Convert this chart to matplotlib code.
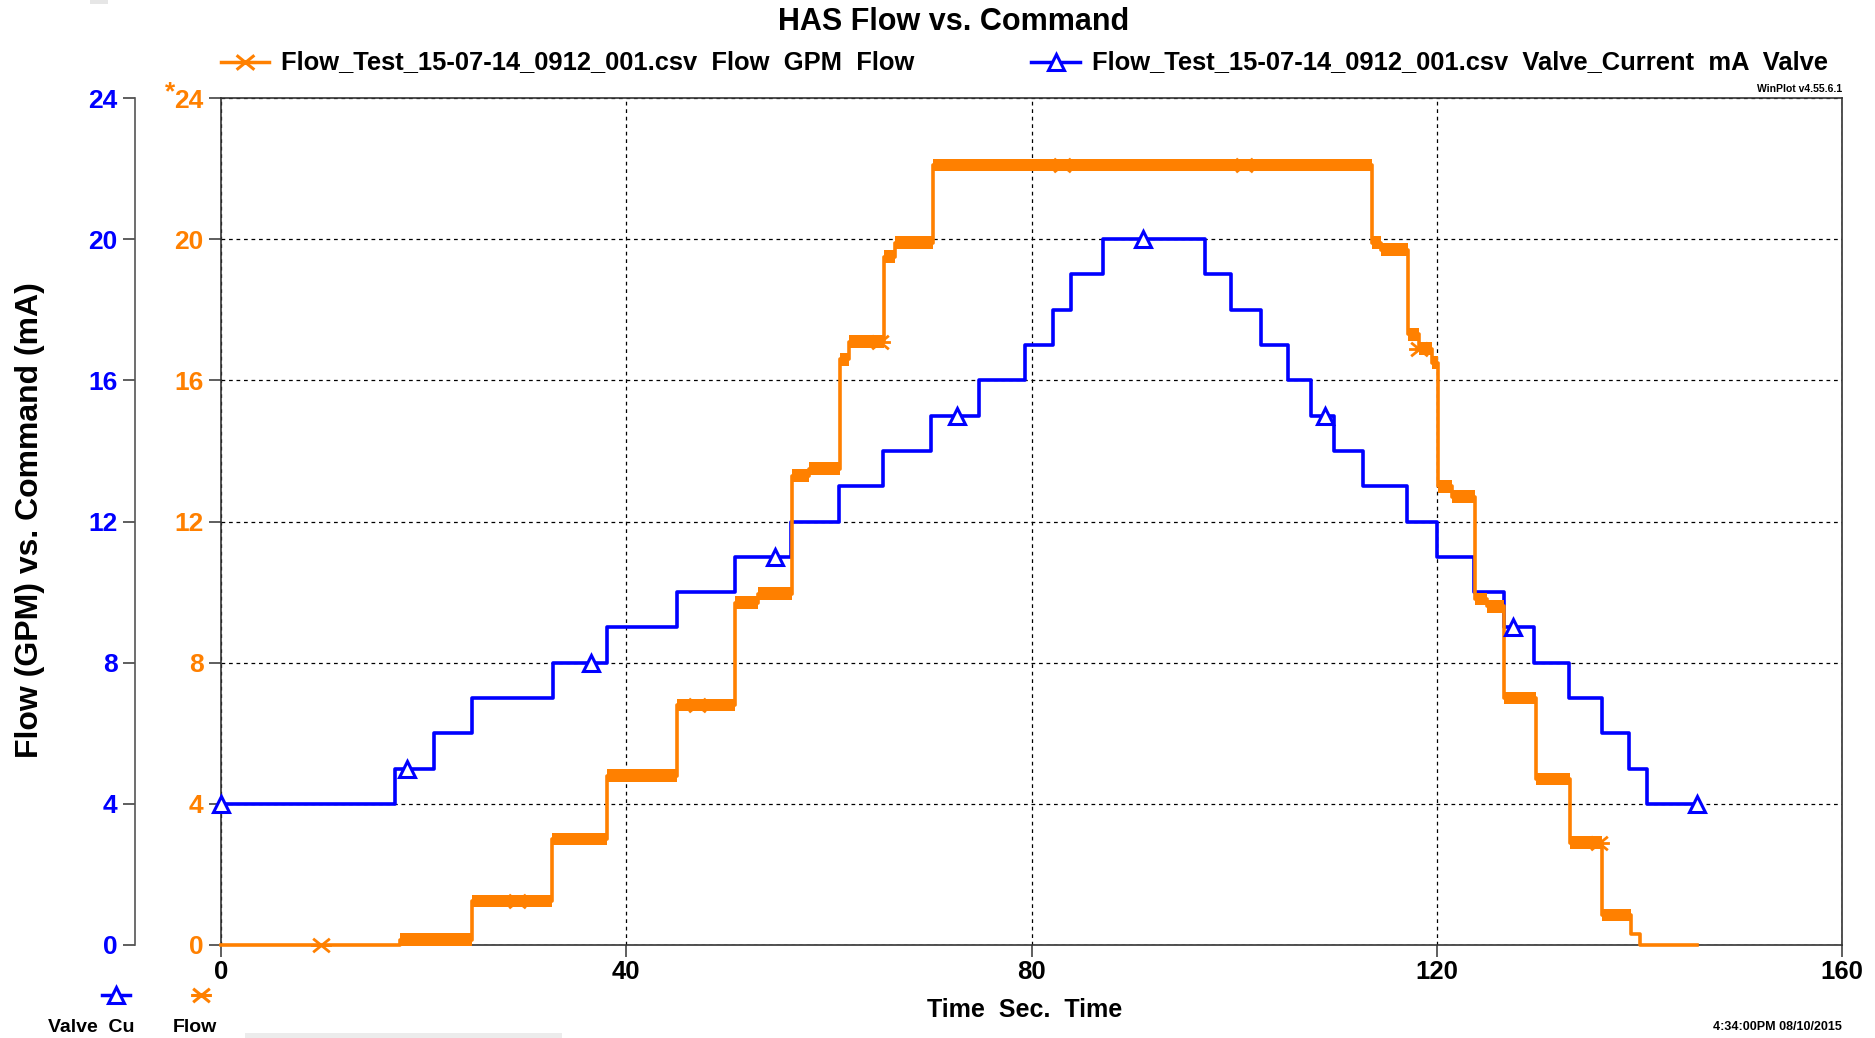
import numpy as np
import matplotlib
matplotlib.use("Agg")
import matplotlib.pyplot as plt
from matplotlib.lines import Line2D
from matplotlib.path import Path
from matplotlib.patches import Rectangle

plt.rcParams["font.family"] = ["Liberation Sans", "DejaVu Sans"]
plt.rcParams["font.weight"] = "bold"

# ── data ────────────────────────────────────────────────────────────────────
# valve command (mA), steps-post: value holds from time t[i] to t[i+1]
valve_t  = [0, 17.2, 21.0, 24.8, 32.8, 38.1, 45.0, 50.7, 56.3, 61.0, 65.3,
            70.1, 74.8, 79.4, 82.1, 83.9, 87.1, 97.1, 99.7, 102.7, 105.3,
            107.6, 109.9, 112.7, 117.1, 120.0, 123.7, 126.6, 129.6, 133.1,
            136.3, 139.0, 140.8, 145.7]
valve_mA = [4, 5, 6, 7, 8, 9, 10, 11, 12, 13, 14,
            15, 16, 17, 18, 19, 20, 19, 18, 17, 16,
            15, 14, 13, 12, 11, 10, 9, 8, 7,
            6, 5, 4, 4]

# measured flow (GPM), steps-post levels
flow_t   = [0, 17.7, 24.8, 32.7, 38.1, 45.0, 50.7, 53.0, 56.4, 58.0, 61.1,
            62.0, 65.4, 66.5, 70.3, 113.6, 114.5, 117.2, 118.2, 119.5, 120.1,
            121.5, 123.8, 125.0, 126.6, 129.8, 133.2, 136.3, 139.2, 140.1, 145.7]
flow_gpm = [0, 0.15, 1.25, 3.0, 4.8, 6.8, 9.7, 9.95, 13.3, 13.5, 16.6,
            17.1, 19.5, 19.9, 22.1, 19.9, 19.7, 17.3, 16.9, 16.5, 13.0,
            12.7, 9.8, 9.6, 7.0, 4.7, 2.9, 0.85, 0.3, 0, 0]

valve_marker_t = [0, 18.4, 36.5, 54.7, 72.6, 91.0, 109.0, 127.5, 145.7]
flow_marker_t  = [9.9, 29.2, 47.0, 65.0, 83.0, 101.0, 118.2, 136.0]

y_ticks = [0, 4, 8, 12, 16, 20, 24]
x_ticks = [0, 40, 80, 120, 160]

file_name = "Flow_Test_15-07-14_0912_001.csv"

# ── styling ─────────────────────────────────────────────────────────────────
BLUE = "#0000FF"
ORANGE = "#FF8000"
W, H = 1875, 1038

def fx(px):
    return px / W

def fy(py):
    return 1 - py / H

# asterisk-like marker used by WinPlot for the flow trace
star = Path([(-1, 0), (1, 0), (-0.8, -0.65), (0.8, 0.65), (-0.8, 0.65), (0.8, -0.65)],
            [Path.MOVETO, Path.LINETO, Path.MOVETO, Path.LINETO, Path.MOVETO, Path.LINETO])

fig = plt.figure(figsize=(W / 100, H / 100), dpi=100)
ax = fig.add_axes([fx(221), 93 / H, (1842 - 221) / W, (945 - 98) / H])
ax.set_xlim(0, 160)
ax.set_ylim(0, 24)

vt = np.array(valve_t)
vv = np.array(valve_mA, dtype=float)
ft = np.array(flow_t)
fv = np.array(flow_gpm)

# valve trace
ax.plot(vt, vv, drawstyle="steps-post", color=BLUE, lw=2.6, zorder=3, clip_on=False)
vm_y = vv[np.searchsorted(vt, valve_marker_t, side="right") - 1]
ax.plot(valve_marker_t, vm_y, ls="none", marker="^", ms=11, mfc="white",
        mec=BLUE, mew=2.2, zorder=5, clip_on=False)

# flow trace (band stands in for the sensor noise)
ax.fill_between(ft, fv - 0.18, fv + 0.18, where=fv > 0, step="post",
                color=ORANGE, lw=0, zorder=4)
ax.plot(ft, fv, drawstyle="steps-post", color=ORANGE, lw=2.6, zorder=4, clip_on=False)
fm_y = fv[np.searchsorted(ft, flow_marker_t, side="right") - 1]
ax.plot(flow_marker_t, fm_y, ls="none", marker=star, ms=15, mfc="none",
        mec=ORANGE, mew=2.0, zorder=5, clip_on=False)

# axes / grid
ax.set_xticks(x_ticks)
ax.set_yticks(y_ticks)
ax.set_xticklabels([str(x) for x in x_ticks], fontsize=18.5, fontweight="bold")
ax.set_yticklabels([str(y) for y in y_ticks], fontsize=19, fontweight="bold",
                   color=ORANGE)
ax.tick_params(axis="y", direction="out", length=8.5, width=1.1, color="#333333", pad=4)
ax.tick_params(axis="x", direction="out", length=8.5, width=1.1, color="#333333", pad=2)
ax.grid(True, ls=(0, (3, 3)), color="black", lw=0.9)
for s in ax.spines.values():
    s.set_color("#333333")
    s.set_linewidth(1.2)
ax.set_axisbelow(True)

# separate blue axis for the valve current scale
ax_b = ax.twinx()
ax_b.set_ylim(0, 24)
ax_b.yaxis.set_ticks_position("left")
ax_b.spines["left"].set_visible(True)
ax_b.spines["left"].set_position(("outward", 62))
ax_b.spines["left"].set_color("#555555")
ax_b.spines["left"].set_linewidth(1.2)
for k in ["right", "top", "bottom"]:
    ax_b.spines[k].set_visible(False)
ax_b.set_yticks(y_ticks)
ax_b.set_yticklabels([str(y) for y in y_ticks], fontsize=19, fontweight="bold",
                     color=BLUE)
ax_b.tick_params(axis="y", direction="out", length=8.5, width=1.1, color="#333333", pad=4)

fig.text(fx(170), fy(92), "*", color=ORANGE, fontsize=19, fontweight="bold",
         ha="center", va="center")

# titles and labels
fig.text(fx(954), fy(22), "HAS Flow vs. Command", fontsize=22, fontweight="bold",
         ha="center", va="center")
fig.text(fx(30), fy(520), "Flow (GPM) vs. Command (mA)", fontsize=23,
         fontweight="bold", rotation=90, ha="center", va="center")
fig.text(fx(1025), fy(1010), "Time  Sec.  Time", fontsize=18, fontweight="bold",
         ha="center", va="center")
fig.text(fx(1842), fy(89), "WinPlot v4.55.6.1", fontsize=7.5, fontweight="bold",
         ha="right", va="center")
fig.text(fx(1842), fy(1027), "4:34:00PM 08/10/2015", fontsize=9, fontweight="bold",
         ha="right", va="center")

# top legend
fig.add_artist(Line2D([fx(221), fx(245), fx(269)], [fy(62)] * 3, color=ORANGE, lw=2.5,
                      marker=star, ms=16, mec=ORANGE, mfc="none", mew=2.2, markevery=[1]))
fig.text(fx(281), fy(62), f"{file_name}  Flow  GPM  Flow", fontsize=18.4,
         fontweight="bold", ha="left", va="center")
fig.add_artist(Line2D([fx(1031), fx(1056), fx(1080)], [fy(62)] * 3, color=BLUE, lw=2.5,
                      marker="^", ms=11, mec=BLUE, mfc="white", mew=2.2, markevery=[1]))
fig.text(fx(1092), fy(62), f"{file_name}  Valve_Current  mA  Valve",
         fontsize=18.4, fontweight="bold", ha="left", va="center")

# bottom legend
fig.add_artist(Line2D([fx(102), fx(116), fx(130)], [fy(995)] * 3, color=BLUE, lw=2.5,
                      marker="^", ms=11, mec=BLUE, mfc="white", mew=2.2, markevery=[1]))
fig.add_artist(Line2D([fx(201)], [fy(995)], ls="none", marker=star, ms=15,
                      mec=ORANGE, mfc="none", mew=2.2))
fig.text(fx(48), fy(1027), "Valve  Cu", fontsize=14, fontweight="bold",
         ha="left", va="center")
fig.text(fx(195), fy(1027), "Flow", fontsize=14, fontweight="bold",
         ha="center", va="center")

# faint screenshot edges
fig.add_artist(Rectangle((fx(245), 0), fx(317), 5 / H, transform=fig.transFigure,
                         color="#ececec", lw=0))
fig.add_artist(Rectangle((fx(90), fy(4)), fx(18), 4 / H, transform=fig.transFigure,
                         color="#e6e6e6", lw=0))

fig.savefig("out.png", dpi=100)
